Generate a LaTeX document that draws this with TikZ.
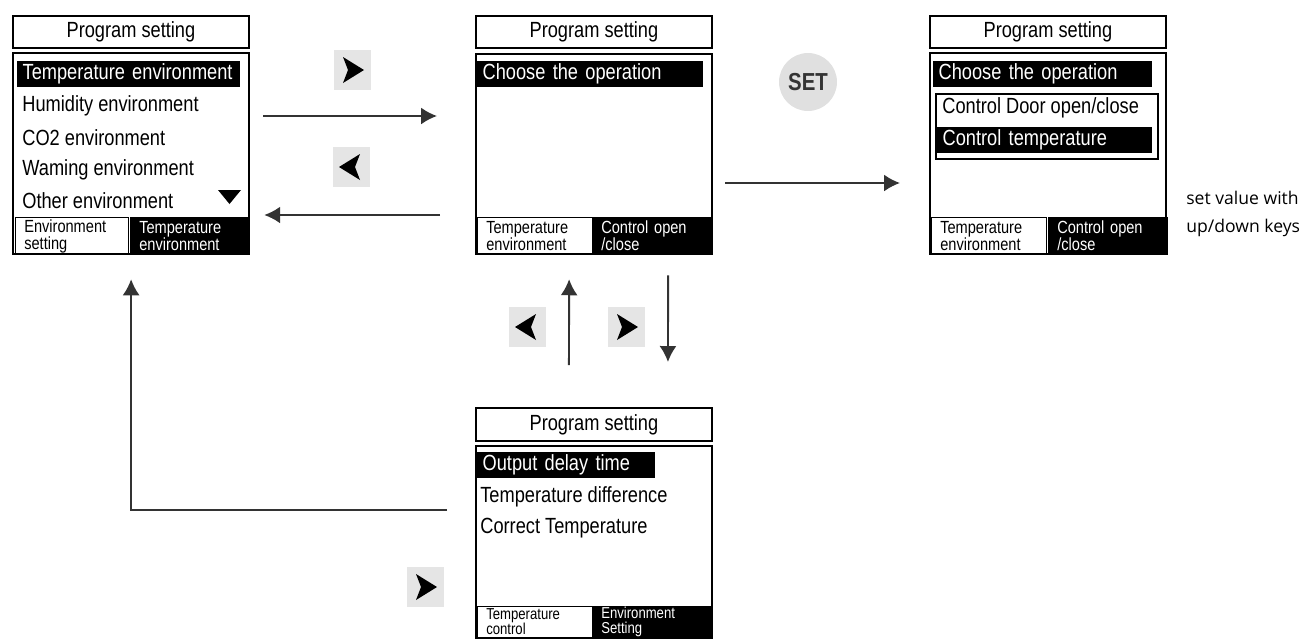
\documentclass[tikz,border=0pt]{standalone}
\usepackage{fontspec}
\setmainfont[FakeStretch=0.83]{Liberation Sans}
\newfontfamily\notefont{Open Sans}
\usetikzlibrary{arrows.meta,calc}

\tikzset{
  scrfont/.style={font=\fontsize{12.5}{14}\selectfont},
  hdrbox/.style={draw, line width=1.1pt, minimum width=4.72cm, minimum height=0.64cm, inner sep=0pt, anchor=north west, scrfont},
  scrbox/.style={draw, line width=1.3pt, minimum width=4.72cm, minimum height=#1, inner sep=0pt, anchor=north west},
  rowtext/.style={anchor=west, inner sep=0pt, scrfont},
  rowsel/.style={anchor=west, fill=black, text=white, inner xsep=3pt, inner ysep=0pt, minimum height=0.52cm, text width=#1, align=left, scrfont},
  tabwhite/.style={anchor=north west, draw, line width=0.6pt, text width=#1, minimum height=0.74cm, inner xsep=5pt, inner ysep=0pt, align=left, font=\fontsize{10}{9.6}\selectfont},
  tabblack/.style={tabwhite=#1, fill=black, text=white},
  keybtn/.style={fill=black!10, minimum width=0.74cm, minimum height=0.8cm, inner sep=0pt},
  keyR/.style={keybtn, path picture={\fill[black, shift={(path picture bounding box.center)}] (-9,-13) -- (12,0) -- (-9,13) -- (-4,0) -- cycle;}},
  keyL/.style={keybtn, path picture={\fill[black, shift={(path picture bounding box.center)}] (9,-13) -- (-12,0) -- (9,13) -- (4,0) -- cycle;}},
  setbtn/.style={circle, fill=black!12, minimum size=1.16cm, inner sep=0pt, text=black!80, font=\bfseries\fontsize{14}{14}\selectfont},
  notetext/.style={anchor=west, inner sep=0pt, font=\notefont\fontsize{10}{12}\selectfont},
  flow/.style={line width=1.1pt, black!80, -{Latex[length=3.2mm,width=3.4mm]}}
}

\begin{document}
\begin{tikzpicture}[x=0.02cm, y=-0.02cm]
  \useasboundingbox (0,0) rectangle (1311,640);

  % environment list
  \node [hdrbox] (h1) at (12,15) {Program setting};
  \node [scrbox=4.02cm] (m1) at (12,52) {};
  \node [rowsel=4.25cm] (r11) at (17,74) {Temperature environment};
  \node [rowtext] (r12) at (22,106) {Humidity environment};
  \node [rowtext] (r13) at (22,138) {CO2 environment};
  \node [rowtext] (r14) at (22,170) {Waming environment};
  \node [rowtext] (r15) at (22,201) {Other environment};
  \fill (218,190) -- (241,190) -- (229.5,204) -- cycle;
  \node [tabwhite=1.9cm] (t11) at (15,217) {Environment\\setting};
  \node [tabblack=2.0cm] (t12) at (130,217) {Temperature\\environment};

  % choose the operation
  \node [hdrbox] (h2) at (475,15) {Program setting};
  \node [scrbox=4.0cm] (m2) at (475,53) {};
  \node [rowsel=4.31cm] (r21) at (477,74) {Choose the operation};
  \node [tabwhite=1.95cm] (t21) at (477,217) {Temperature\\environment};
  \node [tabblack=2.0cm] (t22) at (592,217) {Control open\\/close};

  % control choice
  \node [hdrbox] (h3) at (929,15) {Program setting};
  \node [scrbox=4.02cm] (m3) at (929,52) {};
  \node [rowsel=4.17cm] (r31) at (933,74) {Choose the operation};
  \node [draw, line width=0.9pt, minimum width=4.44cm, minimum height=1.3cm, inner sep=0pt, anchor=north west] (m3in) at (935,93) {};
  \node [rowtext] (r32) at (942,108) {Control Door open/close};
  \node [rowsel=4.09cm] (r33) at (937,140) {Control temperature};
  \node [tabwhite=1.95cm] (t31) at (931,217) {Temperature\\environment};
  \node [tabblack=2.03cm] (t32) at (1048,217) {Control open\\/close};
  \node [notetext] (n1) at (1186,198) {set value with};
  \node [notetext] (n2) at (1186,228) {up/down keys};

  % temperature control
  \node [hdrbox, minimum height=0.66cm] (h4) at (475,407) {Program setting};
  \node [scrbox=3.84cm] (m4) at (475,445) {};
  \node [rowsel=3.35cm] (r41) at (477,465) {Output delay time};
  \node [rowtext] (r42) at (480,497) {Temperature difference};
  \node [rowtext] (r43) at (480,528) {Correct Temperature};
  \node [tabwhite=1.95cm, minimum height=0.62cm, font=\fontsize{9}{8.6}\selectfont] (t41) at (477,606) {Temperature\\control};
  \node [tabblack=2.02cm, minimum height=0.62cm, font=\fontsize{9}{8.6}\selectfont] (t42) at (592,606) {Environment\\Setting};

  % keys
  \node [keyR] (kR1) at (352,70) {};
  \node [keyL] (kL1) at (351,167) {};
  \node [setbtn] (kset) at (808,82) {SET};
  \node [keyL] (kL2) at (527,327) {};
  \node [keyR] (kR2) at (626,327) {};
  \node [keyR] (kR3) at (425,587) {};

  \draw [flow] ($(m1.north east)+(13,64)$) -- ($(m2.north west)+(-38,63)$);
  \draw [flow] ($(m2.north west)+(-35,162)$) -- ($(m1.north east)+(14,163)$);
  \draw [flow] ($(m2.north east)+(12,130)$) -- ($(m3.north west)+(-29,131)$);
  \draw [flow] ($(h4.north)+(-25,-42)$) -- ($(m2.south)+(-25,24)$);
  \draw [flow] ($(m2.south)+(74,20)$) -- ($(h4.north)+(74,-45)$);
  \draw [flow] ($(m4.north west)+(-28,65)$) -| ($(m1.south)+(0,24)$);
\end{tikzpicture}
\end{document}
